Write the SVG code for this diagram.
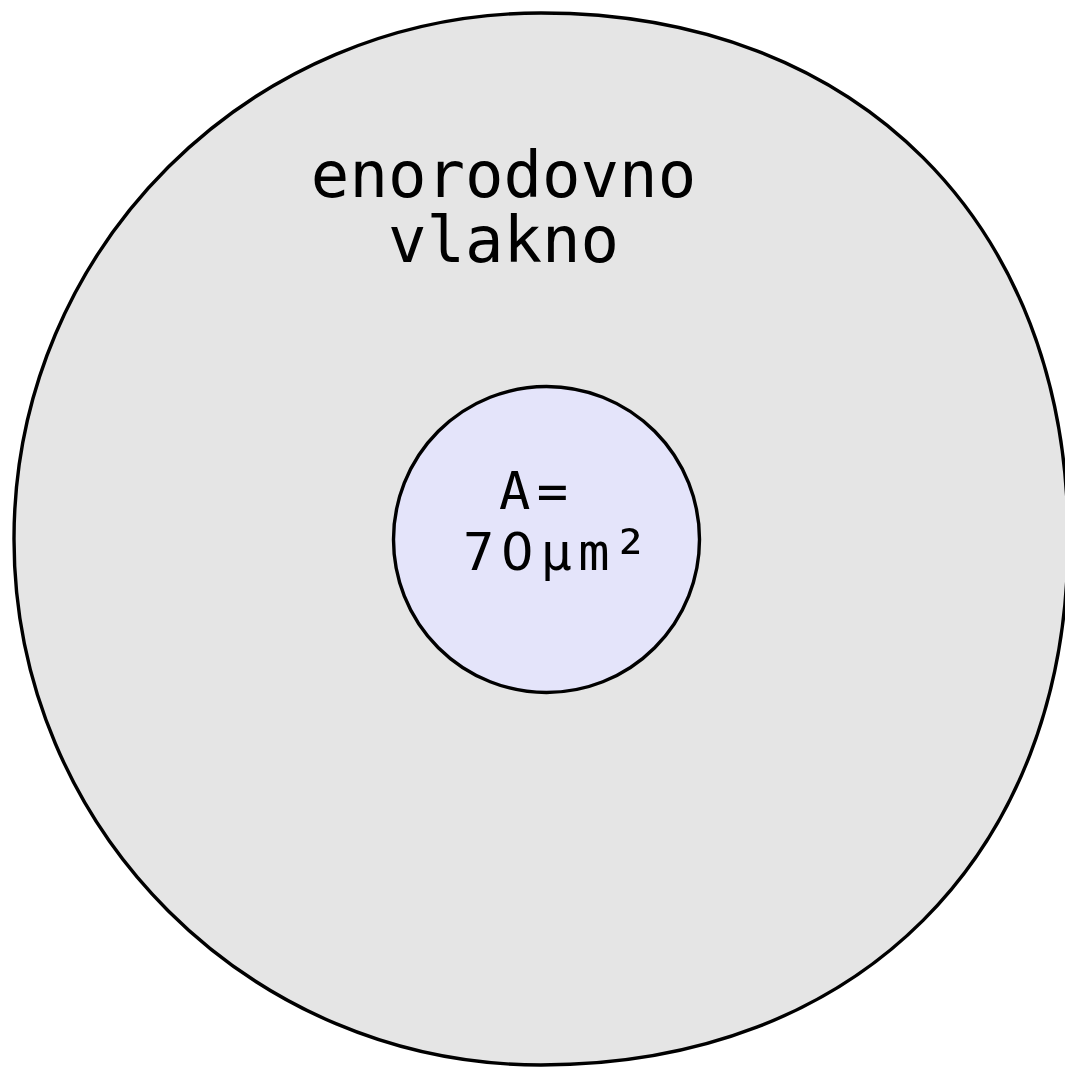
<svg xmlns="http://www.w3.org/2000/svg" width="1065" height="1068" viewBox="0 0 1065 1068">
  <style>
    .ring { stroke: #000; stroke-width: 3.4; }
    .label { font-family: "DejaVu Sans Mono", "Liberation Mono", monospace; fill: #000; }
    .big { font-size: 64px; text-anchor: middle; }
    .small { font-size: 52px; letter-spacing: 6.5px; }
  </style>
  <rect width="1065" height="1068" fill="#fff"/>
  <g id="cladding">
    <path class="ring" fill="#e5e5e5" d="M541,13 C857.2,13 1068,223.4 1068,539 C1068,854.6 857.2,1065 541,1065 C249.9,1065 14,829.5 14,539 C14,248.5 249.9,13 541,13 Z"/>
    <text class="label big" x="503.5" y="197">enorodovno</text>
    <text class="label big" x="503.5" y="262">vlakno</text>
  </g>
  <g id="core">
    <circle class="ring" cx="546.5" cy="539.5" r="153" fill="#e4e4fa"/>
    <text class="label small" x="499" y="509">A=</text>
    <text class="label small" x="463" y="570">7<tspan font-family="DejaVu Sans, sans-serif">0</tspan>µm<tspan x="612" dy="4" font-size="62" letter-spacing="0">²</tspan></text>
  </g>
  <g id="connectors"/>
</svg>
